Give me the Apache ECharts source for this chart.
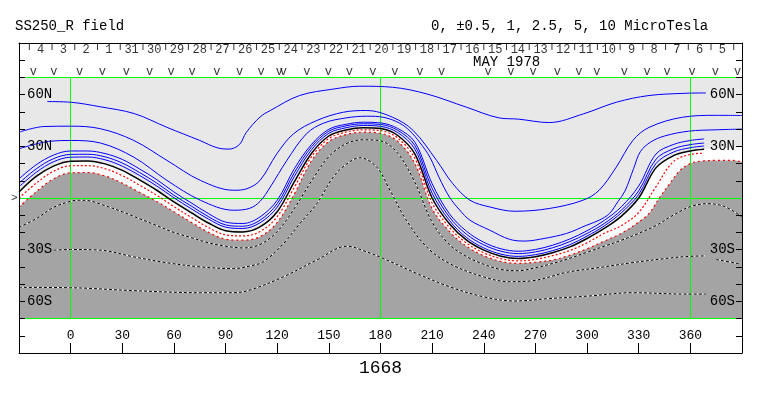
<!DOCTYPE html>
<html><head><meta charset="utf-8">
<script src="https://cdn.jsdelivr.net/npm/echarts@6/dist/echarts.min.js"></script>
<style>html,body{margin:0;padding:0;background:#fff}#c{width:763px;height:396px}</style>
</head><body><div id="c"></div>
<script>
// ---------- data ----------
const titleText = 'SS250_R field';
const levelsText = '0, \u00b10.5, 1, 2.5, 5, 10 MicroTesla';
const monthText = 'MAY 1978';
const rotationText = '1668';
const dayLabels = ['4','3','2','1','31','30','29','28','27','26','25','24','23','22','21','20','19','18','17','16','15','14','13','12','11','10','9','8','7','6','5'];
const obsLon = [-21.6,-9.7,5.2,18.4,32.3,45.8,58.4,70.6,85.0,98.1,110.7,121.2,123.5,137.2,149.7,161.9,175.5,188.4,202.9,215.5,242.5,255.7,268.6,282.7,295.2,305.7,321.7,334.9,346.5,361,374.5,387.4];
const obsMark = 'v';
const lonTickLabels = [0,30,60,90,120,150,180,210,240,270,300,330,360];
const latTickValues = [-80,-70,-60,-50,-40,-30,-20,-10,10,20,30,40,50,60,70,80];
const latLabelValues = [60,30,-30,-60];
const latLabelTexts = ['60N','30N','30S','60S'];
const greenLat = [70,0,-70];
const greenLon = [0,180,360];

// contours [longitude, latitude]
const B1 = [[-13.5,56],[0,55.6],[17,53],[37,49],[56,41],[75,33.4],[85,29.2],[92,28.4],[98,31],[102,38],[110,47],[116,50.8],[133,59.5],[153,63.3],[168,64.9],[187,64.3],[207,60.4],[230,52.7],[249,46.5],[260,45.8],[278,43.8],[298,48.9],[317,55.6],[336,59.5],[357,60.8],[369,61]];
const B2 = [[-30,38.2],[-15.5,41.5],[0,41.7],[17.4,40.2],[36.7,33.4],[56,21.8],[75.4,10.2],[94.7,4.5],[102.4,5.4],[110,10.2],[119.8,25.7],[129.5,37.3],[143,45],[158.4,49.8],[172,50.8],[187,46.9],[199,39.2],[212.6,21.8],[222,8.3],[232,-1.3],[243.5,-5.2],[258,-7.7],[278,-6.1],[297.6,-1.3],[307,4.5],[317,18],[326.6,33.4],[336,41],[355.5,46.9],[375,48],[390,47.9]];
const B3 = [[-30,28.6],[-11.6,33],[0,33.4],[17.4,31.9],[36.7,23.7],[56,10.2],[75.4,-1.3],[94.7,-7.1],[104,-6],[110,-2],[116,6.4],[125.6,21.8],[137,37.3],[147,43.5],[160,46.5],[172,47.5],[182,46.8],[191,43.5],[197,39],[203,32],[208.7,23.7],[214,12],[220,0.6],[226,-7],[232,-12.9],[243.5,-18.7],[255,-24],[264,-25],[275,-23.5],[288,-20.6],[300,-15.7],[307,-12.9],[313,-9],[318,-2],[322,4],[327,17],[331,27],[337,32.5],[345,36],[359,38.8],[375,39.6],[390,40]];
const B4 = [[-30,11.1],[-20,19.3],[-10,24.9],[0,27.3],[10,27.3],[20,25.8],[30,22.4],[40,16.9],[50,10.7],[60,3.5],[70,-2.8],[80,-9],[90,-14],[100,-14.8],[110,-11],[120,-1.3],[130,17.1],[140,31.2],[150,39.9],[160,42.8],[170,44],[180,43.6],[190,40.4],[200,32.4],[210,8.3],[220,-9.1],[230,-19.3],[240,-25.7],[250,-29.5],[260,-30.9],[270,-29.9],[280,-27.4],[290,-23.8],[300,-19],[310,-13],[320,-5],[330,7],[340,25.5],[350,31],[360,33.4],[368,34.3]];
const B5 = [[-30,8.6],[-20,16.9],[-10,22.8],[0,25.3],[10,25.4],[20,23.9],[30,20.3],[40,14.8],[50,8.7],[60,1.6],[70,-4.6],[80,-10.8],[90,-15.6],[100,-16.4],[110,-12.9],[120,-3.3],[130,14.8],[140,29.8],[150,38.8],[160,41.9],[170,43.1],[180,42.7],[190,39.3],[200,30.4],[210,5.6],[220,-11],[230,-21.1],[240,-27.2],[250,-30.9],[260,-32.3],[270,-31.3],[280,-28.9],[290,-25.3],[300,-20.6],[310,-14.8],[320,-7],[330,4.2],[340,22.5],[350,28.5],[360,31],[368,31.9]];
const B6 = [[-30,6.5],[-20,14.9],[-10,21],[0,23.7],[10,23.8],[20,22.2],[30,18.5],[40,13.1],[50,7],[60,0.1],[70,-6.2],[80,-12.2],[90,-16.9],[100,-17.7],[110,-14.4],[120,-5.3],[130,12.6],[140,28.1],[150,37.6],[160,40.8],[170,42.1],[180,41.6],[190,38],[200,28.3],[210,2.8],[220,-13],[230,-23],[240,-29],[250,-32.6],[260,-33.9],[270,-32.9],[280,-30.6],[290,-27.1],[300,-22.1],[310,-16.2],[320,-8.5],[330,2.1],[340,20],[350,26.6],[360,29.2],[368,30.2]];
const K0 = [[-30,3.5],[-20,12.5],[-10,18.5],[0,21.4],[10,21.5],[20,19.8],[30,16],[40,10.5],[50,4.5],[60,-2.3],[70,-8.5],[80,-14.5],[90,-19],[100,-19.7],[110,-16.8],[120,-8],[130,9.5],[140,26],[150,36],[160,39.5],[170,40.8],[180,40.3],[190,36.3],[200,25.5],[210,0],[220,-15],[230,-24.5],[240,-30.3],[250,-33.8],[260,-35.1],[270,-34.1],[280,-31.8],[290,-28.4],[300,-23.5],[310,-17.7],[320,-10.5],[330,0],[340,17.5],[350,24.5],[360,27.3],[368,28.3]];
const K0tail = [[380,29],[390,29.5]];
const R1 = [[-30,0],[-20,8.6],[-10,15.5],[0,18.7],[10,18.8],[20,17],[30,13],[40,7.5],[50,1.6],[60,-5],[70,-11.2],[80,-17.1],[90,-21.4],[100,-22],[110,-19.5],[120,-10.8],[130,6.3],[140,24],[150,34.5],[160,38.3],[170,39.6],[180,39.1],[190,34.8],[200,22.9],[210,-2.9],[220,-17.1],[230,-26.2],[240,-31.8],[250,-35.2],[260,-36.5],[270,-35.6],[280,-33.5],[290,-30.5],[300,-26],[310,-20.5],[320,-16],[330,-8.4],[340,6.5],[350,21],[360,25.3],[368,26]];
const G = [[-30,-5.3],[-20,3.6],[-10,11.1],[0,14.6],[10,14.8],[20,12.8],[30,8.6],[40,3.3],[50,-2],[60,-8],[70,-14.1],[80,-19.9],[90,-23.9],[100,-24.5],[110,-22.5],[120,-14.2],[130,2.4],[140,21.7],[150,32.8],[160,36.8],[170,38.2],[180,37.6],[190,32.9],[200,19.9],[210,-6.2],[220,-19.4],[230,-28.1],[240,-33.5],[250,-36.8],[260,-38],[270,-37.3],[280,-36],[290,-33.2],[300,-29.5],[310,-25],[320,-20.5],[330,-14],[336,-9],[342,0],[348,8.3],[354,16],[360,20],[366,21.4],[375,21.8],[385,21.8],[390,21]];
const D1 = [[-30,-17],[-20,-12],[-10,-5.5],[0,-1.9],[5,-1.3],[10,-1.5],[20,-4.5],[30,-8],[40,-12],[50,-16],[60,-20],[70,-23],[80,-26],[90,-28],[100,-29],[110,-27],[120,-19.5],[130,-6],[140,10],[150,24],[160,31.5],[170,33.8],[180,33.2],[190,26],[200,9],[210,-14],[220,-27],[230,-34],[240,-38.5],[250,-41.5],[260,-42.2],[270,-40.5],[280,-38],[290,-35],[300,-31.5],[310,-28],[320,-24.5],[330,-20.5],[340,-16],[350,-10],[360,-5],[370,-3.3],[380,-5],[390,-11]];
const D2 = [[-9.8,-30.3],[0,-29.9],[17.4,-30.3],[36.7,-34.2],[56,-37.6],[75.4,-40],[94.7,-41],[104,-39.5],[112,-37],[123.7,-26.4],[133,-15],[143,-3.3],[152.6,12.2],[160,19.5],[168,23.4],[177.8,18],[185.5,4.5],[195,-12.9],[206.8,-28.4],[220,-38],[239.6,-45.7],[255,-48.6],[268.6,-48],[288,-43.2],[307,-40.4],[326.6,-37.5],[346,-35.1],[357.5,-34],[369,-33.6]];
const D2tail = [[375,-35.7],[388.4,-38.2]];
const D3 = [[-30,-51.9],[0,-52.1],[36.7,-53.8],[75.4,-55],[94.7,-55],[104.3,-53.4],[123.7,-45.7],[143,-36],[160.4,-28],[172,-31.3],[181.6,-35.1],[201,-43.8],[220,-51.5],[239.6,-57.3],[258,-59.8],[278,-58.4],[300,-57],[326.6,-55],[357.5,-55.8],[369,-55.8]];

// ---------- layout / style ----------
const FONT = 'Liberation Mono';
const SM = 0.35;
const dayStartLon = -17.4, dayStep = 13.2;
const LON_MIN = -30, LON_MAX = 390, LAT_MAP = 70;

const chart = echarts.init(document.getElementById('c'), null, {renderer: 'canvas'});

function fill(data, color, z) {
  return {type: 'line', data, smooth: SM, symbol: 'none', silent: true, z,
    lineStyle: {width: 0, opacity: 0}, areaStyle: {color, opacity: 1, origin: -LAT_MAP}};
}
function contour(data, color, width, type, z) {
  return {type: 'line', data, smooth: SM, symbol: 'none', silent: true, z,
    lineStyle: {color, width, type: type || 'solid', cap: 'butt'}};
}
function textPts(items, fontSize, pos) {
  return {type: 'scatter', silent: true, clip: false, z: 12, symbolSize: 1,
    itemStyle: {color: 'rgba(0,0,0,0)'},
    data: items,
    label: {show: true, position: pos || 'inside', distance: 1, formatter: '{b}', color: '#000', fontSize, fontFamily: FONT}};
}

const series = [
  fill([[LON_MIN, LAT_MAP], [LON_MAX, LAT_MAP]], '#e8e8e8', 1),
  fill(K0.concat(K0tail), '#ffffff', 2),
  fill(G, '#a4a4a4', 3),
  contour(B1, '#0000ff', 1, null, 5),
  contour(B2, '#0000ff', 1, null, 5),
  contour(B3, '#0000ff', 1, null, 5),
  contour(B4, '#0000ff', 1, null, 5),
  contour(B5, '#0000ff', 1, null, 5),
  contour(B6, '#0000ff', 1, null, 5),
  contour(K0, '#000000', 1.5, null, 6),
  contour(R1, '#ff0000', 1.2, [2, 2], 6),
  contour(G, '#ff0000', 1.2, [2, 3], 6),
];
[D1, D2, D2tail, D3].forEach(d => {
  series.push(contour(d, '#ffffff', 1, null, 5));
  series.push(contour(d, '#000000', 1, [3, 2], 6));
});
series.push({type: 'line', data: [[LON_MIN, LAT_MAP]], symbol: 'none', silent: true, z: 8,
  lineStyle: {width: 0},
  markLine: {silent: true, animation: false, symbol: ['none', 'none'], label: {show: false},
    lineStyle: {color: '#00ff00', width: 1, type: 'solid'},
    emphasis: {disabled: true},
    data: greenLat.map(la => [{coord: [LON_MIN, la]}, {coord: [LON_MAX, la]}])
      .concat(greenLon.map(lo => [{coord: [lo, LAT_MAP]}, {coord: [lo, -LAT_MAP]}]))}});
series.push(textPts(dayLabels.map((d, i) => ({name: d, value: [dayStartLon + i * dayStep, 85.9]})), 12));
series.push({type: 'scatter', silent: true, clip: false, z: 12, symbol: 'rect', symbolSize: [1, 6],
  itemStyle: {color: '#000'},
  data: dayLabels.concat(['']).map((d, i) => [dayStartLon - dayStep / 2 + i * dayStep, 87.7])});
series.push(textPts(obsLon.map(l => ({name: obsMark, value: [l, 73.3]})), 12));
series.push(textPts([{name: '>', value: [LON_MIN, 0]}], 11, 'left'));

const yAxisBase = pos => ({
  type: 'value', min: -90, max: 90, interval: 10, position: pos, z: 20,
  axisLine: {show: true, onZero: false, lineStyle: {color: '#000', width: 1}},
  axisTick: {show: true, inside: true, length: 6, customValues: latTickValues, lineStyle: {color: '#000'}},
  axisLabel: {show: true, inside: true, margin: pos === 'left' ? 8 : 7, customValues: latLabelValues,
    formatter: v => { const i = latLabelValues.indexOf(v); return i >= 0 ? latLabelTexts[i] : ''; },
    color: '#000', fontSize: 14, fontFamily: FONT},
  splitLine: {show: false}
});

chart.setOption({
  animation: false,
  backgroundColor: '#ffffff',
  textStyle: {fontFamily: FONT},
  title: [
    {text: titleText, left: 15, top: 19, padding: 0, textStyle: {fontFamily: FONT, fontSize: 14, fontWeight: 'normal', color: '#000'}},
    {text: levelsText, left: 431, top: 19, padding: 0, textStyle: {fontFamily: FONT, fontSize: 14, fontWeight: 'normal', color: '#000'}},
    {text: monthText, left: 473, top: 55, padding: 0, textStyle: {fontFamily: FONT, fontSize: 14, fontWeight: 'normal', color: '#000'}}
  ],
  grid: {left: 19, top: 43, width: 723, height: 310, show: false, containLabel: false},
  xAxis: [{
    type: 'value', min: LON_MIN, max: LON_MAX, interval: 30, position: 'bottom', z: 20,
    axisLine: {show: true, onZero: false, lineStyle: {color: '#000', width: 1}},
    axisTick: {show: true, inside: true, length: 10, lineStyle: {color: '#000'}},
    axisLabel: {show: true, inside: true, margin: 11, customValues: lonTickLabels,
      formatter: v => (lonTickLabels.indexOf(v) >= 0 ? String(v) : ''),
      color: '#000', fontSize: 13, fontFamily: FONT},
    splitLine: {show: false},
    name: rotationText, nameLocation: 'middle', nameGap: 5,
    nameTextStyle: {fontSize: 18, color: '#000', fontFamily: FONT}
  }, {
    type: 'value', min: LON_MIN, max: LON_MAX, position: 'top', z: 20,
    axisLine: {show: true, onZero: false, lineStyle: {color: '#000', width: 1}},
    axisTick: {show: false}, axisLabel: {show: false}, splitLine: {show: false}
  }],
  yAxis: [yAxisBase('left'), yAxisBase('right')],
  series: series
});
</script></body></html>
